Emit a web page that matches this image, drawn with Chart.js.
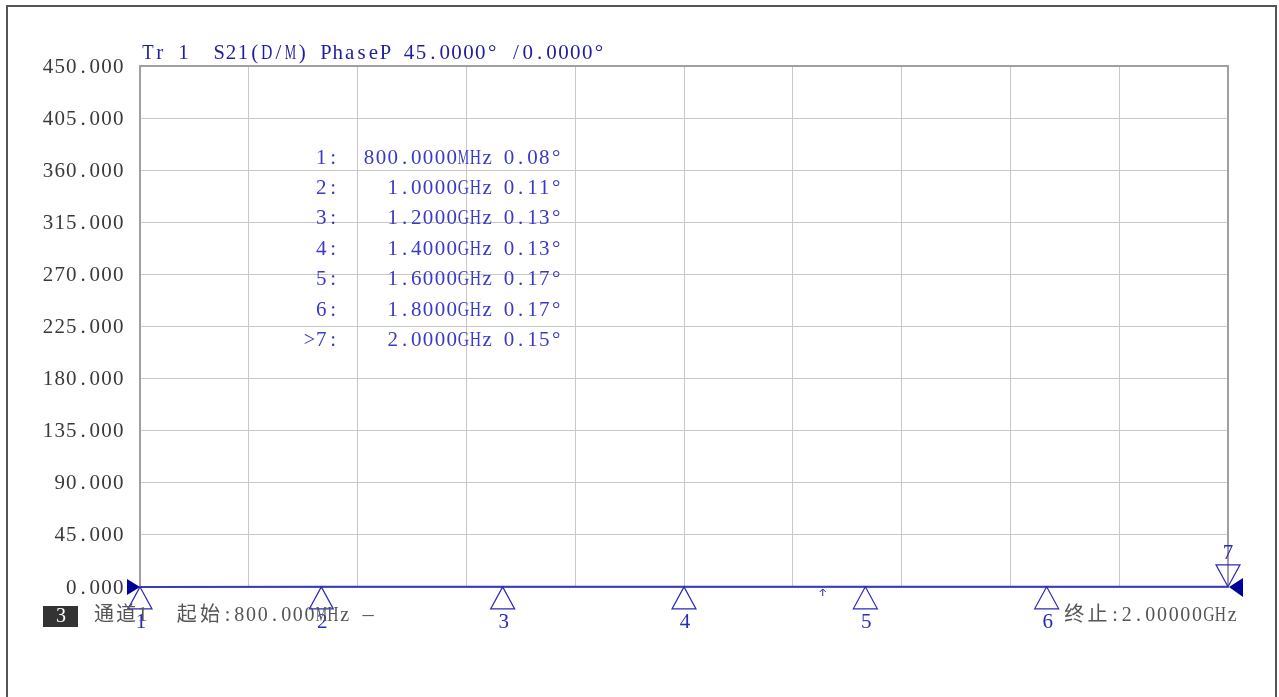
<!DOCTYPE html>
<html>
<head>
<meta charset="utf-8">
<script src="https://cdn.jsdelivr.net/npm/chart.js@4/dist/chart.umd.min.js"></script>
<style>
  html, body { margin: 0; padding: 0; background: #ffffff; }
  #wrap { width: 1279px; height: 697px; }
</style>
</head>
<body>
<div id="wrap"><canvas id="c" width="1279" height="697"></canvas></div>
<script>
// ---- data ----
const freqMHz   = [800, 1000, 1200, 1400, 1600, 1800, 2000];
const phaseDeg  = [0.08, 0.11, 0.13, 0.13, 0.17, 0.17, 0.15];
const markerIds = ['1', '2', '3', '4', '5', '6', '7'];
const markerFreqText = ['800.0000MHz', '1.0000GHz', '1.2000GHz', '1.4000GHz', '1.6000GHz', '1.8000GHz', '2.0000GHz'];
const markerValText  = ['0.08°', '0.11°', '0.13°', '0.13°', '0.17°', '0.17°', '0.15°'];
const activeMarker = 7;
const yTickValues = [0, 45, 90, 135, 180, 225, 270, 315, 360, 405, 450];
const yTickLabels = ['0.000', '45.000', '90.000', '135.000', '180.000', '225.000', '270.000', '315.000', '360.000', '405.000', '450.000'];
const xStartMHz = 800, xStopMHz = 2000, xStepMHz = 120;
const refLevelDeg = 0;
const cursorFreqMHz = 1553;
const titleText = 'Tr 1  S21(D/M) PhaseP 45.0000° /0.0000°';
const startText = '起始:800.000MHz —';
const stopText  = '终止:2.00000GHz';
const chanText  = '通道1';
const chanNum   = '3';

const SERIF = '"Liberation Serif", "Noto Sans CJK SC", "DejaVu Serif", serif';
const TRACE = '#3a3ac4';
const MARK = '#2a2ab8';

function isWide(ch) { return /[\u3000-\u9fff\uff00-\uffef]/.test(ch); }

// monospace-cell text drawing (emulates the instrument's fixed-pitch font)
function mono(ctx, s, x, y, font, color, align, cell) {
  const chars = Array.from(s);
  const wc = cell * 2;
  const total = chars.reduce((w, ch) => w + (isWide(ch) ? wc : cell), 0);
  let cx = align === 'right' ? x - total : align === 'center' ? x - total / 2 : x;
  ctx.save();
  ctx.font = font;
  ctx.fillStyle = color;
  ctx.textAlign = 'center';
  ctx.textBaseline = 'middle';
  chars.forEach(ch => {
    const w = isWide(ch) ? wc : cell;
    if (ch !== ' ') {
      const gw = ctx.measureText(ch).width;
      const lim = w * 0.96;
      if (gw > lim) {
        ctx.save();
        ctx.translate(cx + w / 2, y);
        ctx.scale(lim / gw, 1);
        ctx.fillText(ch, 0, 0);
        ctx.restore();
      } else {
        ctx.fillText(ch, cx + w / 2, y);
      }
    }
    cx += w;
  });
  ctx.restore();
}

const decor = {
  id: 'decor',
  beforeDraw(chart) {
    const ctx = chart.ctx;
    ctx.save();
    ctx.fillStyle = '#ffffff';
    ctx.fillRect(0, 0, chart.width, chart.height);
    ctx.strokeStyle = '#555555';
    ctx.lineWidth = 2;
    ctx.strokeRect(7, 6, 1269, 720);
    ctx.restore();
  },
  beforeDatasetsDraw(chart) {
    const ctx = chart.ctx, a = chart.chartArea;
    ctx.save();
    ctx.strokeStyle = '#a0a0a0';
    ctx.lineWidth = 2;
    ctx.strokeRect(a.left, a.top, a.right - a.left, a.bottom - a.top);
    ctx.restore();
  },
  afterDatasetsDraw(chart) {
    const ctx = chart.ctx, a = chart.chartArea;
    const xs = chart.scales.x, ys = chart.scales.y;
    const F = '21px ' + SERIF;
    // y tick labels
    yTickValues.forEach((v, i) => {
      mono(ctx, yTickLabels[i], 124, ys.getPixelForValue(v) + 1, F, '#3a3a3a', 'right', 11.7);
    });
    // title
    mono(ctx, titleText, a.left + 2, 53, F, '#1f1f9c', 'left', 11.87);
    // reference level arrows
    const yr = ys.getPixelForValue(refLevelDeg);
    ctx.save();
    ctx.fillStyle = '#00009a';
    ctx.beginPath();
    ctx.moveTo(a.left, yr); ctx.lineTo(a.left - 13, yr - 8); ctx.lineTo(a.left - 13, yr + 8); ctx.closePath(); ctx.fill();
    ctx.beginPath();
    ctx.moveTo(a.right + 1, yr); ctx.lineTo(a.right + 15, yr - 9); ctx.lineTo(a.right + 15, yr + 10); ctx.closePath(); ctx.fill();
    ctx.restore();
    // markers
    ctx.save();
    ctx.strokeStyle = MARK;
    ctx.lineWidth = 1.2;
    freqMHz.forEach((f, i) => {
      const px = xs.getPixelForValue(f), py = ys.getPixelForValue(phaseDeg[i]);
      ctx.beginPath();
      if (i + 1 === activeMarker) {
        ctx.moveTo(px, py); ctx.lineTo(px - 12, py - 22); ctx.lineTo(px + 12, py - 22); ctx.closePath(); ctx.stroke();
        mono(ctx, markerIds[i], px, py - 33, F, MARK, 'center', 12);
      } else {
        ctx.moveTo(px, py); ctx.lineTo(px - 12, py + 22); ctx.lineTo(px + 12, py + 22); ctx.closePath(); ctx.stroke();
        mono(ctx, markerIds[i], px + 1, py + 36, F, MARK, 'center', 12);
      }
    });
    ctx.restore();
    // cursor arrow
    const cx = xs.getPixelForValue(cursorFreqMHz), cy = ys.getPixelForValue(0);
    ctx.save();
    ctx.strokeStyle = MARK; ctx.lineWidth = 1;
    ctx.beginPath();
    ctx.moveTo(cx, cy + 2); ctx.lineTo(cx, cy + 9);
    ctx.moveTo(cx - 3, cy + 5); ctx.lineTo(cx, cy + 2); ctx.lineTo(cx + 3, cy + 5);
    ctx.stroke();
    ctx.restore();
    // marker table
    const rowY0 = 158, rowStep = 30.4;
    freqMHz.forEach((f, i) => {
      const y = rowY0 + i * rowStep;
      const lab = (i + 1 === activeMarker ? '>' : '') + markerIds[i] + ':';
      mono(ctx, lab, 339, y, F, '#3a3ac8', 'right', 11.8);
      mono(ctx, markerFreqText[i], 493, y, F, '#3a3ac8', 'right', 11.8);
      mono(ctx, markerValText[i], 503, y, F, '#3a3ac8', 'left', 11.8);
    });
    // footer
    ctx.save();
    ctx.fillStyle = '#333333';
    ctx.fillRect(43, 606, 35, 21);
    ctx.restore();
    mono(ctx, chanNum, 61, 617, '20px ' + SERIF, '#ffffff', 'center', 12);
    const FF = '20px ' + SERIF;
    mono(ctx, chanText, 93, 616, FF, '#555555', 'left', 11);
    mono(ctx, startText, 175, 616, FF, '#555555', 'left', 11.7);
    mono(ctx, stopText, 1238, 616, FF, '#555555', 'right', 11.7);
  }
};

new Chart(document.getElementById('c'), {
  type: 'line',
  data: {
    datasets: [{
      data: freqMHz.map((f, i) => ({ x: f, y: phaseDeg[i] })),
      borderColor: TRACE,
      borderWidth: 2,
      pointRadius: 0,
      tension: 0,
      clip: false
    }]
  },
  options: {
    responsive: false,
    animation: false,
    events: [],
    layout: { padding: { left: 140, top: 66, right: 51, bottom: 110 } },
    plugins: { legend: { display: false }, tooltip: { enabled: false } },
    scales: {
      x: {
        type: 'linear', min: xStartMHz, max: xStopMHz,
        ticks: { display: false, stepSize: xStepMHz },
        grid: { color: '#c8c8c8', lineWidth: 1, drawTicks: false },
        border: { display: false }
      },
      y: {
        type: 'linear', min: yTickValues[0], max: yTickValues[yTickValues.length - 1],
        ticks: { display: false, stepSize: 45 },
        grid: { color: '#c8c8c8', lineWidth: 1, drawTicks: false },
        border: { display: false }
      }
    }
  },
  plugins: [decor]
});
</script>
</body>
</html>
